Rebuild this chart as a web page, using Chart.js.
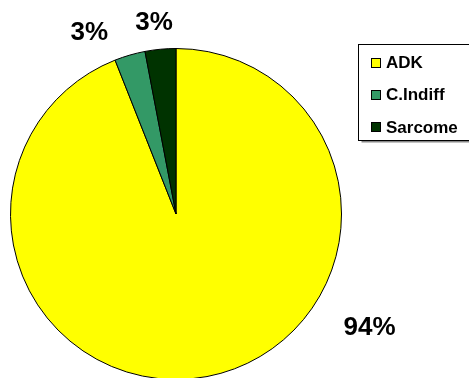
<!DOCTYPE html>
<html>
<head>
<meta charset="utf-8">
<script src="https://cdn.jsdelivr.net/npm/chart.js@4/dist/chart.umd.min.js"></script>
<style>
html,body{margin:0;padding:0;background:#fff;}
#wrap{width:469px;height:378px;overflow:hidden;position:relative;}
canvas{display:block;}
</style>
</head>
<body>
<div id="wrap"><canvas id="c" width="469" height="400"></canvas></div>
<script>
const categories = ['ADK', 'C.Indiff', 'Sarcome'];
const values = [94, 3, 3];
const valueLabels = ['94%', '3%', '3%'];
const colors = ['#FFFF00', '#339966', '#003300'];

// label placement (angle in degrees clockwise from top, distance as fraction of radius)
const labelPlacement = [
  {angle: 120.3, dist: 1.355},
  {angle: -25.4, dist: 1.22},
  {angle: -6.5, dist: 1.17}
];

const FONT = "'Liberation Sans', Arial, sans-serif";

const pctLabels = {
  id: 'pctLabels',
  afterDatasetsDraw(chart) {
    const ctx = chart.ctx;
    const meta = chart.getDatasetMeta(0);
    ctx.save();
    ctx.font = 'bold 26px ' + FONT;
    ctx.fillStyle = '#000';
    ctx.textAlign = 'center';
    ctx.textBaseline = 'middle';
    meta.data.forEach((arc, i) => {
      const p = labelPlacement[i];
      const a = p.angle * Math.PI / 180;
      const R = arc.outerRadius * p.dist;
      const x = arc.x + R * Math.sin(a);
      const y = arc.y - R * Math.cos(a);
      ctx.fillText(valueLabels[i], x, y + 1);
    });
    ctx.restore();
  }
};

const boxLegend = {
  id: 'boxLegend',
  afterDraw(chart) {
    const ctx = chart.ctx;
    ctx.save();
    const bx = 358.5, by = 44.5, bw = 130, bh = 96;
    ctx.fillStyle = '#888';
    ctx.fillRect(bx + 3, by + bh, bw, 2);
    ctx.fillStyle = '#fff';
    ctx.fillRect(bx, by, bw, bh);
    ctx.strokeStyle = '#000';
    ctx.lineWidth = 1;
    ctx.strokeRect(bx, by, bw, bh);
    ctx.font = 'bold 17px ' + FONT;
    ctx.textBaseline = 'middle';
    ctx.textAlign = 'left';
    categories.forEach((name, i) => {
      const cy = 62.5 + i * 32.3;
      ctx.fillStyle = colors[i];
      ctx.fillRect(371.5, Math.round(cy - 5) + 0.5, 9, 9);
      ctx.strokeStyle = '#000';
      ctx.strokeRect(371.5, Math.round(cy - 5) + 0.5, 9, 9);
      ctx.fillStyle = '#000';
      ctx.fillText(name, 386, cy + 1);
    });
    ctx.restore();
  }
};

new Chart(document.getElementById('c'), {
  type: 'pie',
  data: {
    labels: categories,
    datasets: [{
      data: values,
      backgroundColor: colors,
      borderColor: '#000',
      borderWidth: 1
    }]
  },
  options: {
    responsive: false,
    animation: false,
    layout: {padding: {left: 10, right: 127, top: 48, bottom: 20}},
    plugins: {legend: {display: false}, tooltip: {enabled: false}}
  },
  plugins: [pctLabels, boxLegend]
});
</script>
</body>
</html>
